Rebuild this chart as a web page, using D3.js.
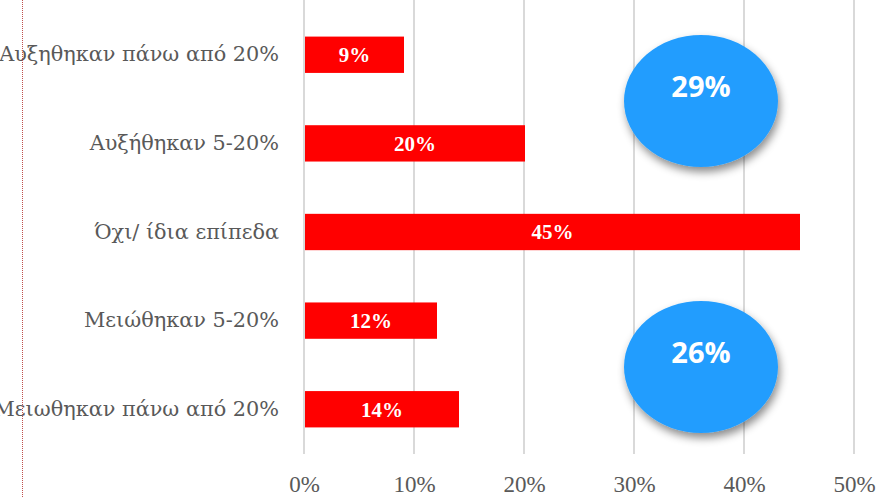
<!DOCTYPE html>
<html>
<head>
<meta charset="utf-8">
<script src="https://cdn.jsdelivr.net/npm/d3@7"></script>
<style>
	body { margin: 0; background: #fff; }
	svg { display: block; }
</style>
</head>
<body>
<div id="chart"></div>
<script>
'use strict'

var categories = [
	'Αυξηθηκαν πάνω από 20%',
	'Αυξήθηκαν 5-20%',
	'Όχι/ ίδια επίπεδα',
	'Μειώθηκαν 5-20%',
	'Μειωθηκαν πάνω από 20%'
];
var values = [9, 20, 45, 12, 14];
var ticks = [0, 10, 20, 30, 40, 50];
// bubbles: sum of the rows above and below the middle bar
var bubbleLabels = ['29%', '26%'];
var bubbleRows = [[0, 1], [3, 4]];

(function() {
	var width = 877, height = 497;
	var margin = { top: 10, right: 22, bottom: 43, left: 305 };
	var serif = '"DejaVu Serif", "Liberation Serif", serif';

	var svg = d3.select('#chart').append('svg')
		.attr('width', width)
		.attr('height', height);

	var defs = svg.append('defs');
	var shadow = defs.append('filter')
		.attr('id', 'shadow')
		.attr('x', '-20%').attr('y', '-20%')
		.attr('width', '140%').attr('height', '150%');
	shadow.append('feDropShadow')
		.attr('dx', 2).attr('dy', 5)
		.attr('stdDeviation', 4)
		.attr('flood-color', '#000')
		.attr('flood-opacity', 0.45);

	var x = d3.scaleLinear()
		.domain([0, 50])
		.range([margin.left, width - margin.right]);

	var y = d3.scaleBand()
		.domain(categories)
		.range([margin.top, height - margin.bottom])
		.paddingInner(0.59)
		.paddingOuter(0.3);

	// grid lines
	svg.append('g').selectAll('line')
		.data(ticks)
		.enter().append('line')
		.attr('x1', function(d) { return x(d) - 1; })
		.attr('x2', function(d) { return x(d) - 1; })
		.attr('y1', 0)
		.attr('y2', height - margin.bottom)
		.attr('stroke', '#d9d9d9')
		.attr('stroke-width', 2);

	// x axis labels
	var xAxis = d3.axisBottom(x)
		.tickValues(ticks)
		.tickSize(0)
		.tickPadding(0)
		.tickFormat(function(d) { return d + '%'; });

	var gx = svg.append('g')
		.attr('transform', 'translate(-1,' + (height - 5) + ')')
		.call(xAxis);
	gx.select('.domain').remove();
	gx.selectAll('text')
		.attr('dy', 0)
		.attr('fill', '#595959')
		.style('font-family', '"Liberation Serif", serif')
		.style('font-size', '23px');

	// y axis labels
	var yAxis = d3.axisLeft(y).tickSize(0).tickPadding(26);
	var gy = svg.append('g')
		.attr('transform', 'translate(' + margin.left + ',0)')
		.call(yAxis);
	gy.select('.domain').remove();
	gy.selectAll('text')
		.attr('fill', '#595959')
		.style('font-family', serif)
		.style('font-size', '20.8px');

	// bars
	var rows = categories.map(function(c, i) { return { cat: c, val: values[i] }; });

	svg.append('g').selectAll('rect')
		.data(rows)
		.enter().append('rect')
		.attr('x', x(0))
		.attr('y', function(d) { return y(d.cat); })
		.attr('width', function(d) { return x(d.val) - x(0); })
		.attr('height', y.bandwidth())
		.attr('fill', '#ff0000');

	svg.append('g').selectAll('text')
		.data(rows)
		.enter().append('text')
		.attr('x', function(d) { return (x(0) + x(d.val)) / 2; })
		.attr('y', function(d) { return y(d.cat) + y.bandwidth() / 2; })
		.attr('dy', '0.35em')
		.attr('text-anchor', 'middle')
		.attr('fill', '#fff')
		.style('font-family', '"Liberation Serif", serif')
		.style('font-weight', 'bold')
		.style('font-size', '21px')
		.text(function(d) { return d.val + '%'; });

	// bubbles
	var bubbles = bubbleLabels.map(function(l, i) {
		var a = y(categories[bubbleRows[i][0]]);
		var b = y(categories[bubbleRows[i][1]]) + y.bandwidth();
		return { label: l, cy: (a + b) / 2 + 2 };
	});

	var gb = svg.append('g').selectAll('g')
		.data(bubbles)
		.enter().append('g')
		.attr('transform', function(d) { return 'translate(' + x(36) + ',' + d.cy + ')'; });

	gb.append('ellipse')
		.attr('rx', 77)
		.attr('ry', 66)
		.attr('fill', '#229dfe')
		.attr('filter', 'url(#shadow)');

	gb.append('text')
		.attr('y', -14)
		.attr('dy', '0.35em')
		.attr('text-anchor', 'middle')
		.attr('fill', '#fff')
		.style('font-family', '"Open Sans", "Noto Sans", sans-serif')
		.style('font-weight', 'bold')
		.style('font-size', '29px')
		.text(function(d) { return d.label; });

	// dotted red margin line
	svg.append('line')
		.attr('x1', 22.5).attr('x2', 22.5)
		.attr('y1', 0).attr('y2', height)
		.attr('stroke', '#c0504d')
		.attr('stroke-width', 1)
		.attr('stroke-dasharray', '1,1');
})();
</script>
</body>
</html>
